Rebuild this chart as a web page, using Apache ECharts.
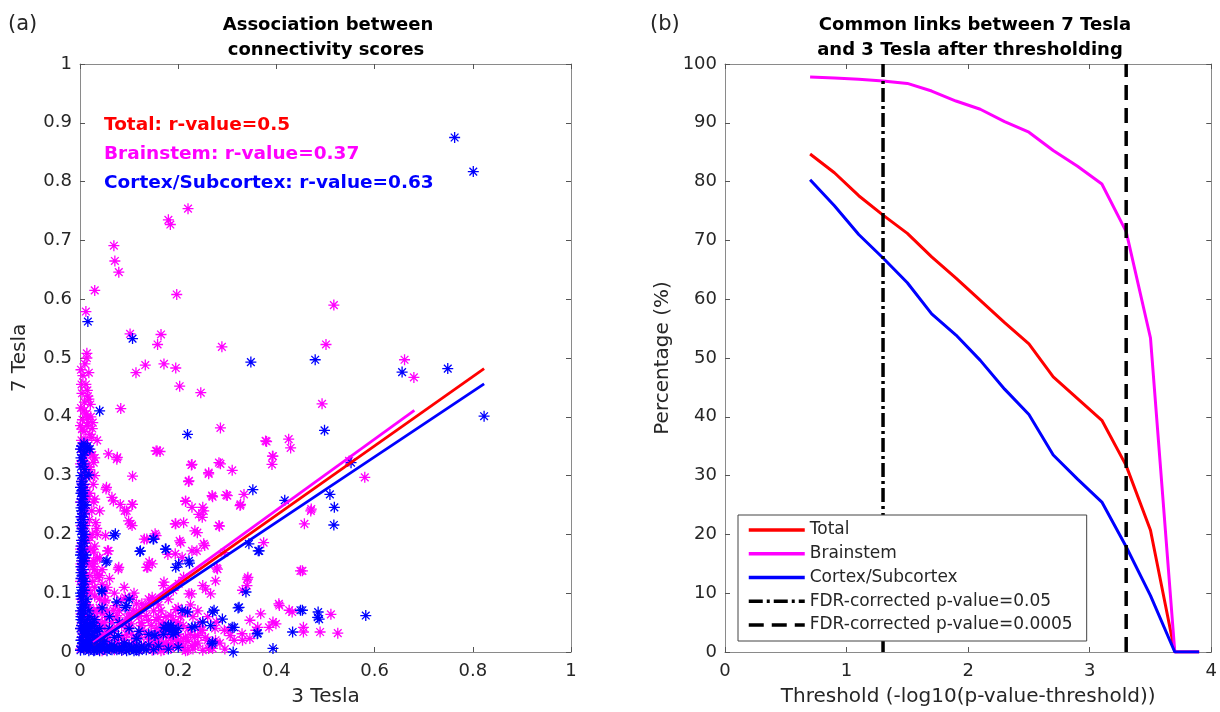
<!DOCTYPE html>
<html><head><meta charset="utf-8">
<script src="https://cdn.jsdelivr.net/npm/echarts@6/dist/echarts.min.js"></script>
<style>html,body{margin:0;padding:0;background:#fff}#c{width:1220px;height:712px}</style>
</head><body><div id="c"></div><script>
const FONT = 'DejaVu Sans';

// ---------- Panel (a): scatter of connectivity scores (x = 3 Tesla, y = 7 Tesla) ----------
const brainstemPoints = [
 [0.220,0.754],[0.180,0.735],[0.184,0.727],[0.069,0.691],[0.071,0.665],[0.079,0.646],[0.030,0.615],[0.197,0.608],[0.517,0.590],[0.012,0.579],
 [0.102,0.541],[0.165,0.540],[0.158,0.523],[0.289,0.519],[0.501,0.523],[0.014,0.508],[0.661,0.497],
 [0.014,0.500],[0.018,0.475],[0.114,0.475],[0.133,0.488],[0.171,0.490],[0.195,0.483],[0.203,0.452],[0.246,0.441],[0.083,0.414],[0.016,0.435],
 [0.021,0.421],[0.026,0.390],[0.004,0.379],[0.286,0.381],[0.493,0.422],[0.680,0.467],[0.380,0.358],[0.425,0.362],[0.429,0.347],[0.393,0.333],
 [0.391,0.319],[0.155,0.342],[0.163,0.341],[0.058,0.337],[0.076,0.331],[0.028,0.322],[0.107,0.299],[0.227,0.318],[0.262,0.303],[0.286,0.320],
 [0.310,0.309],[0.221,0.290],[0.580,0.297],[0.548,0.325],[0.053,0.277],[0.068,0.257],[0.091,0.240],[0.107,0.251],[0.215,0.256],[0.270,0.264],
 [0.298,0.267],[0.326,0.249],[0.334,0.268],[0.242,0.234],[0.250,0.246],[0.195,0.218],[0.211,0.220],[0.234,0.206],[0.284,0.214],[0.103,0.218],
 [0.032,0.220],[0.052,0.198],[0.155,0.198],[0.131,0.192],[0.203,0.189],[0.254,0.181],[0.374,0.186],[0.457,0.218],[0.471,0.243],[0.449,0.138],
 [0.342,0.127],[0.340,0.113],[0.278,0.143],[0.294,0.169],[0.238,0.172],[0.138,0.144],[0.141,0.153],[0.079,0.144],[0.056,0.172],[0.028,0.155],
 [0.036,0.133],[0.179,0.166],[0.171,0.119],[0.211,0.127],[0.227,0.099],[0.266,0.099],[0.250,0.113],
 [0.405,0.082],[0.432,0.068],[0.511,0.064],[0.455,0.042],[0.489,0.034],[0.525,0.032],[0.455,0.034],[0.393,0.051],[0.368,0.065],[0.346,0.054],
 [0.362,0.042],[0.330,0.031],[0.346,0.023],[0.314,0.020],[0.294,0.037],[0.278,0.051],[0.306,0.028],[0.246,0.037],[0.233,0.025],[0.211,0.023],
 [0.199,0.014],[0.179,0.011],[0.155,0.014],[0.163,0.048],[0.139,0.054],[0.115,0.082],[0.107,0.093],[0.083,0.088],[0.068,0.071],[0.052,0.088],
 [0.076,0.054],[0.099,0.042],[0.123,0.025],[0.060,0.025],[0.091,0.008],[0.036,0.017],[0.147,0.003],[0.219,0.003],
 [0.157,0.342],[0.075,0.328],[0.228,0.319],[0.283,0.322],[0.262,0.305],[0.222,0.291],[0.378,0.359],[0.392,0.333],[0.054,0.280],[0.065,0.263],
 [0.082,0.251],[0.095,0.240],[0.106,0.251],[0.099,0.223],[0.106,0.215],[0.215,0.257],[0.269,0.266],[0.300,0.266],[0.327,0.251],[0.252,0.240],
 [0.228,0.246],[0.249,0.229],[0.194,0.218],[0.239,0.203],[0.283,0.215],[0.205,0.186],[0.153,0.201],[0.136,0.192],[0.252,0.184],[0.228,0.172],
 [0.194,0.167],[0.208,0.161],[0.136,0.144],[0.147,0.150],[0.078,0.141],[0.058,0.172],[0.027,0.150],[0.037,0.127],[0.280,0.141],[0.341,0.124],
 [0.331,0.105],[0.276,0.121],[0.256,0.107],[0.222,0.099],[0.201,0.116],[0.170,0.113],[0.147,0.093],[0.126,0.082],[0.109,0.071],[0.092,0.093],
 [0.072,0.079],[0.055,0.059],[0.031,0.042],[0.065,0.037],[0.095,0.042],[0.126,0.037],[0.160,0.059],[0.174,0.037],[0.194,0.042],[0.215,0.025],
 [0.249,0.037],[0.276,0.020],[0.303,0.037],[0.331,0.020],[0.358,0.037],[0.385,0.042],[0.399,0.048],[0.406,0.079],[0.426,0.071],[0.453,0.138],
 [0.470,0.240],[0.150,0.011],[0.184,0.014],[0.228,0.011],[0.262,0.006],[0.112,0.008],[0.072,0.011],[0.041,0.008],
 [0.006,0.470],[0.012,0.455],[0.004,0.440],[0.018,0.430],[0.008,0.410],[0.022,0.400],[0.005,0.395],[0.014,0.385],[0.003,0.360],[0.020,0.370],
 [0.010,0.355],[0.006,0.340],[0.025,0.335],[0.004,0.325],[0.014,0.315],[0.007,0.305],[0.020,0.300],[0.003,0.290],[0.012,0.280],[0.027,0.285],
 [0.005,0.270],[0.016,0.260],[0.008,0.245],[0.024,0.240],[0.003,0.230],[0.012,0.215],[0.006,0.200],[0.020,0.195],[0.004,0.185],[0.014,0.175],
 [0.028,0.170],[0.007,0.160],[0.018,0.150],[0.003,0.140],[0.012,0.130],[0.025,0.120],[0.006,0.115],[0.016,0.105],[0.004,0.095],[0.030,0.095],
 [0.010,0.085],[0.020,0.075],[0.005,0.070],[0.035,0.070],[0.014,0.060],[0.025,0.055],[0.004,0.050],[0.045,0.050],[0.012,0.040],[0.030,0.040],
 [0.006,0.030],[0.020,0.028],[0.040,0.025],[0.010,0.018],[0.030,0.015],[0.005,0.008],[0.018,0.006],[0.035,0.005],
 [0.050,0.005],[0.060,0.015],[0.070,0.004],[0.080,0.012],[0.090,0.020],[0.100,0.006],[0.110,0.015],[0.120,0.004],[0.130,0.012],[0.140,0.022],
 [0.150,0.006],[0.160,0.018],[0.170,0.004],[0.180,0.025],[0.190,0.010],[0.200,0.030],[0.210,0.008],[0.220,0.018],[0.230,0.005],[0.240,0.015],
 [0.250,0.003],[0.260,0.020],[0.270,0.006],[0.165,0.035],[0.185,0.045],[0.200,0.050],[0.175,0.060],[0.190,0.020],
 [0.002,0.480],[0.010,0.490],[0.003,0.455],[0.015,0.445],[0.009,0.425],[0.002,0.415],[0.013,0.405],[0.017,0.390],[0.001,0.385],[0.008,0.375],
 [0.024,0.365],[0.002,0.345],[0.016,0.345],[0.011,0.330],[0.001,0.320],[0.019,0.315],[0.008,0.295],[0.030,0.300],[0.002,0.280],[0.020,0.270],
 [0.010,0.265],[0.001,0.255],[0.028,0.255],[0.013,0.240],[0.005,0.235],[0.019,0.225],[0.002,0.215],[0.034,0.210],[0.009,0.205],[0.025,0.200],
 [0.014,0.190],[0.001,0.175],[0.022,0.175],[0.009,0.170],[0.035,0.160],[0.012,0.155],[0.002,0.150],[0.026,0.145],[0.008,0.135],[0.020,0.130],
 [0.040,0.130],[0.001,0.120],[0.015,0.115],[0.030,0.110],[0.009,0.100],[0.022,0.100],[0.002,0.090],[0.040,0.090],[0.016,0.080],[0.008,0.075],
 [0.028,0.070],[0.002,0.065],[0.045,0.065],[0.018,0.055],[0.010,0.050],[0.035,0.050],[0.002,0.040],[0.025,0.040],[0.050,0.040],[0.015,0.030],
 [0.045,0.030],[0.003,0.020],[0.025,0.022],[0.055,0.020],[0.012,0.012],[0.040,0.012],[0.001,0.005],[0.028,0.004],[0.060,0.008],
 [0.045,0.002],[0.065,0.008],[0.075,0.020],[0.085,0.003],[0.095,0.030],[0.105,0.012],[0.115,0.025],[0.125,0.006],[0.135,0.030],[0.145,0.012],
 [0.155,0.040],[0.165,0.002],[0.170,0.050],[0.175,0.015],[0.185,0.006],[0.190,0.055],[0.195,0.028],[0.205,0.015],[0.210,0.045],[0.215,0.002],
 [0.225,0.030],[0.230,0.060],[0.235,0.012],[0.245,0.050],[0.255,0.025],[0.265,0.008],[0.275,0.040],[0.285,0.015],[0.295,0.005],[0.050,0.050],
 [0.060,0.060],[0.080,0.070],[0.100,0.065],[0.120,0.060],[0.130,0.075],[0.150,0.070],[0.140,0.090],[0.160,0.080],[0.110,0.100],[0.180,0.090],
 [0.200,0.075],[0.190,0.105],[0.070,0.100],[0.045,0.115],[0.060,0.125],[0.090,0.110],
 [0.030,0.060],[0.040,0.075],[0.050,0.085],[0.055,0.070],[0.065,0.050],[0.075,0.062],[0.085,0.045],[0.095,0.058],[0.105,0.048],[0.115,0.068],
 [0.125,0.050],[0.135,0.062],[0.145,0.045],[0.155,0.055],[0.165,0.070],[0.175,0.028],[0.185,0.062],[0.195,0.072],[0.205,0.060],[0.215,0.068],
 [0.225,0.080],[0.240,0.070],[0.260,0.060],[0.030,0.030],[0.040,0.045],[0.050,0.030],[0.070,0.035],[0.085,0.025],[0.105,0.030],[0.125,0.045],
 [0.145,0.030],[0.160,0.025],[0.170,0.012],[0.200,0.018],[0.220,0.040],[0.240,0.028],[0.030,0.180],[0.035,0.200],[0.040,0.240],[0.030,0.260],
 [0.020,0.310],[0.030,0.330],[0.035,0.360],[0.025,0.380],[0.015,0.400],[0.012,0.360],[0.020,0.340],[0.030,0.140],[0.040,0.160],[0.050,0.100],
 [0.045,0.140],[0.055,0.110]
];
const cortexPoints = [
 [0.763,0.875],[0.801,0.817],[0.016,0.562],[0.107,0.533],
 [0.348,0.493],[0.479,0.497],[0.656,0.476],[0.749,0.482],[0.823,0.401],[0.498,0.377],[0.219,0.370],[0.040,0.410],[0.014,0.347],[0.018,0.301],
 [0.004,0.274],[0.352,0.276],[0.417,0.258],[0.509,0.268],[0.518,0.246],[0.517,0.216],[0.552,0.322],[0.069,0.198],[0.149,0.192],[0.122,0.171],
 [0.175,0.175],[0.223,0.151],[0.195,0.144],[0.053,0.153],[0.363,0.172],[0.338,0.102],[0.045,0.103],[0.095,0.079],[0.322,0.075],[0.449,0.071],
 [0.485,0.068],[0.487,0.056],[0.582,0.062],[0.433,0.034],[0.393,0.006],[0.312,0.000],[0.270,0.017],[0.362,0.032],[0.219,0.068],[0.270,0.068],
 [0.250,0.051],[0.290,0.056],[0.314,0.042],[0.187,0.037],[0.171,0.042],[0.151,0.028],[0.115,0.023],[0.234,0.043],[0.045,0.075],
 [0.072,0.201],[0.150,0.192],[0.123,0.172],[0.174,0.175],[0.055,0.155],[0.222,0.155],[0.201,0.150],[0.344,0.184],[0.365,0.172],[0.044,0.105],
 [0.092,0.076],[0.208,0.071],[0.181,0.042],[0.273,0.071],[0.266,0.045],[0.228,0.042],[0.310,0.042],[0.324,0.076],[0.361,0.031],[0.269,0.014],
 [0.453,0.071],[0.484,0.059],[0.153,0.028],[0.116,0.023],[0.078,0.028],
 [0.003,0.350],[0.010,0.340],[0.020,0.345],[0.005,0.325],[0.010,0.310],[0.003,0.290],[0.008,0.275],[0.004,0.260],[0.012,0.250],[0.003,0.240],
 [0.007,0.225],[0.004,0.210],[0.010,0.200],[0.003,0.190],[0.006,0.175],[0.012,0.165],[0.003,0.155],[0.007,0.140],[0.004,0.130],[0.010,0.120],
 [0.003,0.110],[0.006,0.100],[0.014,0.090],[0.003,0.080],[0.008,0.070],[0.004,0.060],[0.015,0.055],[0.003,0.045],[0.009,0.038],[0.020,0.030],
 [0.004,0.025],[0.012,0.018],[0.025,0.012],[0.003,0.010],[0.008,0.004],[0.018,0.002],[0.030,0.020],[0.040,0.010],
 [0.030,0.003],[0.045,0.008],[0.055,0.002],[0.065,0.012],[0.075,0.004],[0.085,0.009],[0.095,0.002],[0.105,0.007],[0.115,0.003],[0.125,0.010],
 [0.135,0.004],[0.050,0.018],[0.070,0.025],[0.090,0.015],[0.035,0.035],[0.060,0.040],[0.025,0.050],
 [0.001,0.345],[0.006,0.335],[0.002,0.315],[0.012,0.300],[0.001,0.280],[0.005,0.265],[0.002,0.245],[0.009,0.235],[0.001,0.220],[0.006,0.200],
 [0.002,0.180],[0.009,0.185],[0.001,0.165],[0.005,0.150],[0.009,0.155],[0.002,0.135],[0.006,0.120],[0.001,0.100],[0.009,0.105],[0.004,0.090],
 [0.011,0.080],[0.001,0.070],[0.005,0.065],[0.018,0.070],[0.002,0.055],[0.010,0.050],[0.022,0.045],[0.001,0.040],[0.006,0.032],[0.015,0.035],
 [0.030,0.035],[0.002,0.020],[0.008,0.015],[0.018,0.020],[0.035,0.025],[0.045,0.020],[0.001,0.003],[0.005,0.008],[0.013,0.006],[0.022,0.008],
 [0.028,0.002],[0.035,0.010],[0.050,0.005],[0.012,0.028],[0.025,0.028],[0.040,0.040],[0.020,0.060],[0.030,0.055],
 [0.040,0.002],[0.060,0.006],[0.080,0.005],[0.100,0.012],[0.110,0.002],[0.130,0.006],[0.140,0.012],[0.150,0.004],[0.160,0.010],[0.180,0.005],
 [0.200,0.008],[0.170,0.030],[0.185,0.045],[0.190,0.030],[0.175,0.040],[0.200,0.040],[0.140,0.030],[0.120,0.035],[0.100,0.040],[0.080,0.050],
 [0.060,0.060],[0.100,0.090],[0.075,0.085],
 [0.005,0.015],[0.012,0.010],[0.020,0.015],[0.015,0.025],[0.025,0.020],[0.010,0.035],[0.020,0.040],[0.030,0.045],[0.008,0.045],[0.015,0.045],
 [0.035,0.005],[0.045,0.013],[0.055,0.009],[0.065,0.004],[0.070,0.010],[0.085,0.003],[0.090,0.010],[0.100,0.004],[0.115,0.010],[0.120,0.002],
 [0.002,0.060],[0.007,0.080],[0.002,0.095],[0.007,0.110],[0.002,0.125],[0.007,0.130],[0.002,0.145],[0.008,0.160],[0.002,0.170],[0.008,0.190],
 [0.002,0.205],[0.008,0.215],[0.002,0.230],[0.008,0.250],[0.002,0.255],[0.008,0.265],[0.002,0.270],[0.008,0.285],[0.002,0.300],[0.008,0.320],
 [0.002,0.330],[0.008,0.355],[0.015,0.350],[0.185,0.035],[0.190,0.040],[0.195,0.033],[0.180,0.045]
];
// least-squares fit lines (endpoints)
const fitTotal = [[0.027,0.013],[0.823,0.482]];
const fitBrainstem = [[0.027,0.016],[0.681,0.411]];
const fitCortex = [[0.027,0.013],[0.823,0.456]];
const rTexts = ['Total: r-value=0.5','Brainstem: r-value=0.37','Cortex/Subcortex: r-value=0.63'];

// ---------- Panel (b): common links vs threshold ----------
const thresholds = [0.7,0.9,1.1,1.3,1.5,1.7,1.9,2.1,2.3,2.5,2.7,2.9,3.1,3.3,3.5,3.7,3.9];
const totalPct     = [84.7,81.5,77.6,74.3,71.2,67.2,63.6,59.8,56.0,52.4,46.8,43.1,39.4,31.7,20.7,0,0];
const brainstemPct = [97.8,97.6,97.4,97.1,96.7,95.4,93.7,92.3,90.2,88.4,85.3,82.6,79.6,71.5,53.4,0,0];
const cortexPct    = [80.3,75.9,71.0,67.0,62.8,57.5,53.9,49.6,44.7,40.4,33.5,29.4,25.5,17.9,9.6,0,0];
const fdr005 = 1.3;
const fdr00005 = 3.3;

const RED='#ff0000', MAG='#ff00ff', BLUE='#0000ff';
const ASTER = 'path://M0,-5L0,5M-5,0L5,0M-3.5,-3.5L3.5,3.5M-3.5,3.5L3.5,-3.5';
const frameColor = '#8a8a8a', tickColor = '#555', labelColor = '#262626';
const TICK_FS = 18, NAME_FS = 20;

function mainAxis(extra){
  return Object.assign({
    type:'value', axisLine:{show:true,onZero:false,lineStyle:{color:frameColor,width:1}},
    axisTick:{show:true,inside:true,length:5,lineStyle:{color:tickColor}},
    splitLine:{show:false},
    nameTextStyle:{color:labelColor,fontFamily:FONT,fontSize:NAME_FS}
  }, extra);
}
function decorAxis(extra){
  return Object.assign({
    type:'value', axisLine:{show:true,onZero:false,lineStyle:{color:frameColor,width:1}},
    axisTick:{show:true,inside:true,length:5,lineStyle:{color:tickColor}},
    splitLine:{show:false}, axisLabel:{show:false}
  }, extra);
}
const fmt1 = v => String(+v.toFixed(1));

const chart = echarts.init(document.getElementById('c'), null, {renderer:'canvas'});
const option = {
  backgroundColor:'#fff',
  animation:false,
  textStyle:{fontFamily:FONT},
  grid:[
    {left:80, top:64, width:491, height:591},
    {left:725, top:64, width:487, height:591}
  ],
  xAxis:[
    mainAxis({gridIndex:0,min:0,max:1,interval:0.2,name:'3 Tesla',nameLocation:'middle',nameGap:35,
      axisLabel:{color:labelColor,fontFamily:FONT,fontSize:TICK_FS,margin:10,formatter:fmt1}}),
    decorAxis({gridIndex:0,min:0,max:1,interval:0.2,position:'top'}),
    mainAxis({gridIndex:1,min:0,max:4,interval:1,name:'Threshold (-log10(p-value-threshold))',nameLocation:'middle',nameGap:35,
      axisLabel:{color:labelColor,fontFamily:FONT,fontSize:TICK_FS,margin:10}}),
    decorAxis({gridIndex:1,min:0,max:4,interval:1,position:'top'})
  ],
  yAxis:[
    mainAxis({gridIndex:0,min:0,max:1,interval:0.1,name:'7 Tesla',nameLocation:'middle',nameGap:50,
      axisLabel:{color:labelColor,fontFamily:FONT,fontSize:TICK_FS,margin:8,formatter:fmt1}}),
    decorAxis({gridIndex:0,min:0,max:1,interval:0.1,position:'right'}),
    mainAxis({gridIndex:1,min:0,max:100,interval:10,name:'Percentage (%)',nameLocation:'middle',nameGap:52,
      axisLabel:{color:labelColor,fontFamily:FONT,fontSize:TICK_FS,margin:8}}),
    decorAxis({gridIndex:1,min:0,max:100,interval:10,position:'right'})
  ],
  legend:{
    data:['Total','Brainstem','Cortex/Subcortex','FDR-corrected p-value=0.05','FDR-corrected p-value=0.0005'],
    orient:'vertical', left:738, top:515, padding:[6.5,14,7.5,9],
    itemWidth:56, itemHeight:14, itemGap:6.75,
    itemStyle:{opacity:0},
    lineStyle:{width:3.5},
    backgroundColor:'#fff', borderColor:'#444', borderWidth:1, borderRadius:0,
    textStyle:{fontFamily:FONT,fontSize:17,color:labelColor}
  },
  series:[
    {type:'scatter',xAxisIndex:0,yAxisIndex:0,data:brainstemPoints,symbol:ASTER,symbolSize:11,
      itemStyle:{color:'rgba(0,0,0,0)',borderColor:MAG,borderWidth:1.3,opacity:1},silent:true},
    {type:'scatter',xAxisIndex:0,yAxisIndex:0,data:cortexPoints,symbol:ASTER,symbolSize:11,
      itemStyle:{color:'rgba(0,0,0,0)',borderColor:BLUE,borderWidth:1.3,opacity:1},silent:true},
    {type:'line',xAxisIndex:0,yAxisIndex:0,data:fitTotal,symbol:'none',lineStyle:{color:RED,width:2.8},silent:true},
    {type:'line',xAxisIndex:0,yAxisIndex:0,data:fitBrainstem,symbol:'none',lineStyle:{color:MAG,width:2.8},silent:true},
    {type:'line',xAxisIndex:0,yAxisIndex:0,data:fitCortex,symbol:'none',lineStyle:{color:BLUE,width:2.8},silent:true},

    {name:'Total',type:'line',xAxisIndex:2,yAxisIndex:2,data:thresholds.map((t,i)=>[t,totalPct[i]]),
      symbol:'none',color:RED,lineStyle:{color:RED,width:3}},
    {name:'Brainstem',type:'line',xAxisIndex:2,yAxisIndex:2,data:thresholds.map((t,i)=>[t,brainstemPct[i]]),
      symbol:'none',color:MAG,lineStyle:{color:MAG,width:3}},
    {name:'Cortex/Subcortex',type:'line',xAxisIndex:2,yAxisIndex:2,data:thresholds.map((t,i)=>[t,cortexPct[i]]),
      symbol:'none',color:BLUE,lineStyle:{color:BLUE,width:3}},
    {name:'FDR-corrected p-value=0.05',type:'line',xAxisIndex:2,yAxisIndex:2,data:[[fdr005,0],[fdr005,100]],
      symbol:'none',color:'#000',lineStyle:{color:'#000',width:3.5,type:[14,4,3,4]}},
    {name:'FDR-corrected p-value=0.0005',type:'line',xAxisIndex:2,yAxisIndex:2,data:[[fdr00005,0],[fdr00005,100]],
      symbol:'none',color:'#000',lineStyle:{color:'#000',width:3.5,type:[15,8]}}
  ],
  graphic:[
    {type:'text',x:8,y:25,style:{text:'(a)',font:'21px "DejaVu Sans"',fill:'#262626',textVerticalAlign:'middle'}},
    {type:'text',x:650,y:25,style:{text:'(b)',font:'21px "DejaVu Sans"',fill:'#262626',textVerticalAlign:'middle'}},
    {type:'text',x:328,y:25,style:{text:'Association between',font:'bold 18px "DejaVu Sans"',fill:'#000',textAlign:'center',textVerticalAlign:'middle'}},
    {type:'text',x:326,y:50,style:{text:'connectivity scores',font:'bold 18px "DejaVu Sans"',fill:'#000',textAlign:'center',textVerticalAlign:'middle'}},
    {type:'text',x:975,y:25,style:{text:'Common links between 7 Tesla',font:'bold 18px "DejaVu Sans"',fill:'#000',textAlign:'center',textVerticalAlign:'middle'}},
    {type:'text',x:970,y:50,style:{text:'and 3 Tesla after thresholding',font:'bold 18px "DejaVu Sans"',fill:'#000',textAlign:'center',textVerticalAlign:'middle'}},
    {type:'text',x:104,y:125,style:{text:rTexts[0],font:'bold 18.5px "DejaVu Sans"',fill:RED,textVerticalAlign:'middle'}},
    {type:'text',x:104,y:154,style:{text:rTexts[1],font:'bold 18.5px "DejaVu Sans"',fill:MAG,textVerticalAlign:'middle'}},
    {type:'text',x:104,y:183,style:{text:rTexts[2],font:'bold 18.5px "DejaVu Sans"',fill:BLUE,textVerticalAlign:'middle'}}
  ]
};
chart.setOption(option);
</script></body></html>
